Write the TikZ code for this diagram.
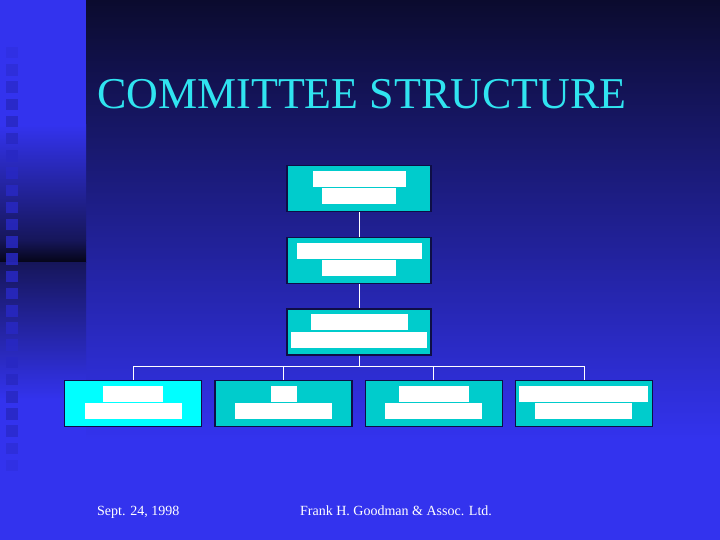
\documentclass[tikz,border=0pt]{standalone}
\usepackage{fontspec}
\setmainfont{Liberation Serif}
\usetikzlibrary{positioning}
\definecolor{slideblue}{RGB}{51,51,238}
\definecolor{slidenavy}{RGB}{11,11,46}
\definecolor{stripdark}{RGB}{5,5,24}
\definecolor{stripnavy}{RGB}{22,22,90}
\definecolor{squareblue}{RGB}{40,40,195}
\definecolor{titlecyan}{RGB}{48,228,240}
\definecolor{boxteal}{RGB}{0,204,204}
\definecolor{boxcyan}{RGB}{0,255,255}
\definecolor{boxedge}{RGB}{14,14,70}

\begin{document}
\begin{tikzpicture}[%
    x=1pt, y=-1pt,               % work in pixels, y runs downwards
    node distance=24.5pt and 12pt,
    ]
% -------------------------------------------------
% Box styles
\tikzset{
  box/.style={draw=boxedge, line width=1.2pt, fill=boxteal, inner sep=0pt,
    minimum width=144pt, minimum height=46pt},
  subbox/.style={box, minimum width=137pt},
  bar/.style={fill=white},
  link/.style={draw=white, line width=0.8pt},
  heading/.style={anchor=base west, inner sep=0pt, text=titlecyan,
    font=\fontsize{44}{48}\selectfont},
  foot/.style={anchor=base west, inner sep=0pt, text=white,
    font=\fontsize{14}{16}\selectfont},
}
% -------------------------------------------------
% Background of the slide
\useasboundingbox (0,0) rectangle (720,540);
\shade[top color=slidenavy, bottom color=slideblue] (86,0) rectangle (720,440);
\fill[slideblue] (86,440) rectangle (720,540);
% left strip with its dark band
\fill[slideblue] (0,0) rectangle (86,125);
\shade[top color=slideblue, bottom color=stripnavy] (0,125) rectangle (86,240);
\shade[top color=stripnavy, bottom color=stripdark] (0,240) rectangle (86,262);
\shade[top color=stripnavy, bottom color=slideblue] (0,262) rectangle (86,400);
\fill[slideblue] (0,400) rectangle (86,540);
\foreach \i in {0,...,24} {
  \pgfmathsetmacro\op{0.85*min(1,(\i+1)/4,(25-\i)/4)}
  \fill[squareblue, opacity=\op] (6,47+17.2*\i) rectangle ++(11.5,11.5);
}
% -------------------------------------------------
% Title and footer
\node[heading] (title) at (97,109) {COMMITTEE STRUCTURE};
\node[foot] (date) at (97,515) {Sept. 24, 1998};
\node[foot] (firm) at (300,515) {Frank H. Goodman \& Assoc. Ltd.};
% -------------------------------------------------
% The boxes of the chart
\node[box] (board) at (359,188.5) {};
\node[box, below=of board] (exec) {};
\node[box, below=of exec] (steer) {};
\node[subbox, below=24pt of steer, xshift=-75.5pt] (com2) {};
\node[subbox, fill=boxcyan, left=of com2] (com1) {};
\node[subbox, right=of com2] (com3) {};
\node[subbox, right=of com3] (com4) {};

% white bars standing in for the box labels
\foreach \n/\wa/\wb in {board/93/74, exec/125/74, steer/97/136,
    com1/60/97, com2/26/97, com3/70/97, com4/129/97} {
  \fill[bar] ([shift={(-\wa/2,-17.5)}]\n.center) rectangle ++(\wa,16);
  \fill[bar] ([shift={(-\wb/2,0)}]\n.center) rectangle ++(\wb,16);
}
% -------------------------------------------------
% Connectors
\coordinate (bus) at ([yshift=-11pt]steer.south);
\draw[link] (board) -- (exec);
\draw[link] (exec) -- (steer);
\foreach \c in {com1,com2,com3,com4}
  \draw[link] (steer.south) -- (bus) -| (\c.north);
% -------------------------------------------------
\end{tikzpicture}
\end{document}
